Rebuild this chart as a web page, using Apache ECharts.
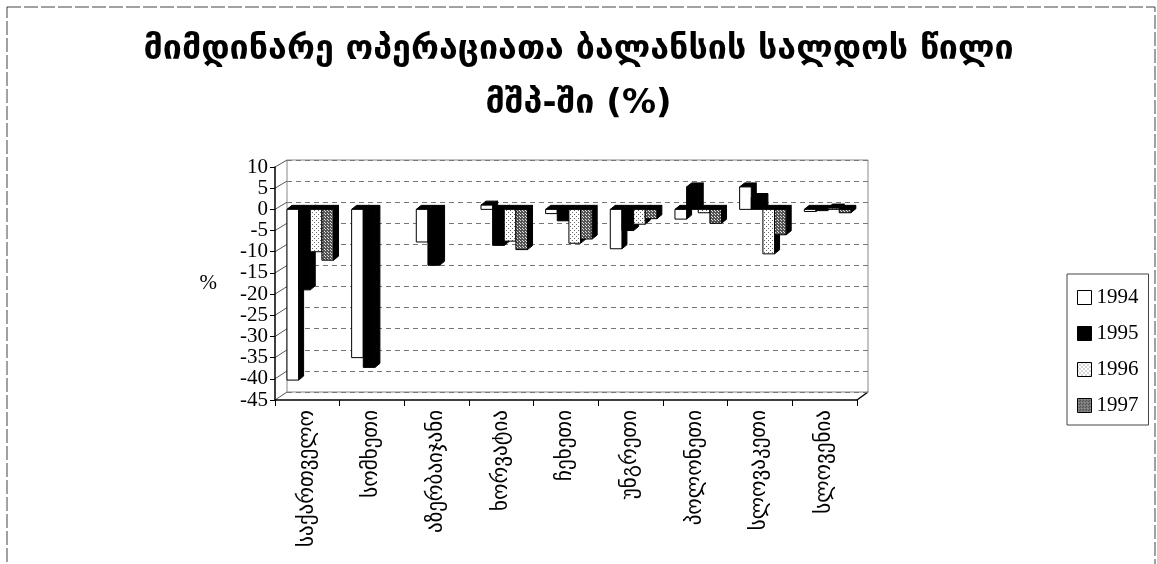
<!DOCTYPE html>
<html>
<head>
<meta charset="utf-8">
<script src="https://cdn.jsdelivr.net/npm/echarts@6/dist/echarts.min.js"></script>
<style>
  html, body { margin: 0; padding: 0; background: #fff; }
  #chart { width: 1157px; height: 564px; }
</style>
</head>
<body>
<div id="chart"></div>
<script>
// values (% of GDP)
const categories = ['საქართველო', 'სომხეთი', 'აზერბაიჯანი', 'ხორვატია', 'ჩეხეთი', 'უნგრეთი', 'პოლონეთი', 'სლოვაკეთი', 'სლოვენია'];
const years = ['1994', '1995', '1996', '1997'];
const v1994 = [-40.3, -35, -7.7, 1, -1, -9.3, -2.3, 5.3, -0.5];
const v1995 = [-19, -37.3, -13.2, -8.5, -2.7, -5, 5.3, 2.8, -0.3];
const v1996 = [-10, null, null, -7.5, -8, -3.5, -0.8, -10.5, 0.3];
const v1997 = [-12, null, null, -9.5, -7, -2.2, -3.3, -6, -0.8];
const yTicks = [10, 5, 0, -5, -10, -15, -20, -25, -30, -35, -40, -45];

const values = [v1994, v1995, v1996, v1997];

// small dot patterns like the printed hatching
function dots(bg, fg, step) {
  const c = document.createElement('canvas');
  c.width = step; c.height = step;
  const g = c.getContext('2d');
  g.fillStyle = bg; g.fillRect(0, 0, step, step);
  g.fillStyle = fg;
  g.fillRect(0, 0, 1, 1);
  g.fillRect(Math.floor(step / 2), Math.floor(step / 2), 1, 1);
  return { image: c, repeat: 'repeat' };
}
const fills = ['#ffffff', '#000000', dots('#ffffff', '#666666', 4), dots('#555555', '#e0e0e0', 3)];

const DX = 5, DY = -4;

function barRenderer(si) {
  return function (params, api) {
    const ci = api.value(0);
    const v = api.value(1);
    if (v == null || isNaN(v)) return null;
    const band = api.size([1, 0])[0];
    const bw = band * 0.18;
    const p0 = api.coord([ci, 0]);
    const p1 = api.coord([ci, v]);
    const x0 = p0[0] - band / 2 + band * 0.185 + si * bw;
    const x1 = x0 + bw;
    const yt = Math.min(p0[1], p1[1]);
    const yb = Math.max(p0[1], p1[1]);
    return {
      type: 'group',
      children: [
        { type: 'polygon', shape: { points: [[x1, yt], [x1 + DX, yt + DY], [x1 + DX, yb + DY], [x1, yb]] },
          style: { fill: '#000', stroke: '#000', lineWidth: 1 } },
        { type: 'polygon', shape: { points: [[x0, yt], [x0 + DX, yt + DY], [x1 + DX, yt + DY], [x1, yt]] },
          style: { fill: '#000', stroke: '#000', lineWidth: 1 } },
        { type: 'rect', shape: { x: x0, y: yt, width: bw, height: Math.max(yb - yt, 0.5) },
          style: { fill: fills[si], stroke: '#000', lineWidth: 1 } }
      ]
    };
  };
}

const chart = echarts.init(document.getElementById('chart'));

const series = years.map(function (y, si) {
  return {
    name: y,
    type: 'custom',
    xAxisIndex: 1,
    yAxisIndex: 1,
    renderItem: barRenderer(si),
    itemStyle: { color: fills[si], borderColor: '#000', borderWidth: 1 },
    encode: { x: 0, y: 1 },
    data: categories.map(function (c, i) { return [i, values[si][i]]; }),
    z: 3
  };
});

const axisFont = 'Liberation Serif';
const frame = { type: 'rect', shape: { x: 7, y: 7, width: 1148, height: 600 },
  style: { fill: 'none', stroke: '#444', lineWidth: 1, lineDash: [14, 3] }, silent: true };

chart.setOption({
  animation: false,
  title: {
    text: 'მიმდინარე ოპერაციათა ბალანსის სალდოს წილი\nმშპ-ში (%)',
    left: 'center',
    top: 18,
    textStyle: { fontFamily: 'DejaVu Sans', fontWeight: 'bold', fontSize: 34, lineHeight: 54, color: '#000' }
  },
  legend: {
    orient: 'vertical',
    left: 1067,
    top: 274,
    padding: [13, 10, 9, 10],
    itemWidth: 14,
    itemHeight: 14,
    itemGap: 15,
    icon: 'rect',
    borderColor: '#444',
    borderWidth: 1,
    textStyle: { fontFamily: axisFont, fontSize: 21, color: '#000' },
    data: years.map(function (y, si) {
      return { name: y, itemStyle: { color: fills[si], borderColor: '#000', borderWidth: 1 } };
    })
  },
  grid: [
    { left: 287, right: 289, top: 160, bottom: 172, show: true, borderColor: '#888', borderWidth: 1, backgroundColor: 'transparent' },
    { left: 275, right: 300, top: 167, bottom: 164 }
  ],
  xAxis: [
    { gridIndex: 0, type: 'category', data: categories, show: false },
    {
      gridIndex: 1,
      type: 'category',
      data: categories,
      position: 'bottom',
      axisLine: { onZero: false, lineStyle: { color: '#000', width: 1.5 } },
      axisTick: { show: true, length: 6, lineStyle: { color: '#000' } },
      axisLabel: { rotate: 90, margin: 10, fontFamily: 'DejaVu Sans', fontSize: 21, color: '#000', interval: 0 }
    }
  ],
  yAxis: [
    {
      gridIndex: 0, type: 'value', min: -45, max: 10, interval: 5,
      axisLine: { show: false }, axisTick: { show: false }, axisLabel: { show: false },
      splitLine: { show: true, lineStyle: { color: '#777', type: [5, 4], width: 1 } }
    },
    {
      gridIndex: 1, type: 'value', min: -45, max: 10, interval: 5,
      name: '%',
      nameLocation: 'middle',
      nameRotate: 0,
      nameGap: 58,
      nameTextStyle: { fontFamily: axisFont, fontSize: 21, color: '#000' },
      axisLine: { show: true, lineStyle: { color: '#000', width: 1.5 } },
      axisTick: { show: true, length: 5, lineStyle: { color: '#000' } },
      axisLabel: { fontFamily: axisFont, fontSize: 21, color: '#000', margin: 7 },
      splitLine: { show: false }
    }
  ],
  series: series,
  graphic: [frame]
});

// 3d side wall and floor edges, placed from the two value scales
const extra = [];
const fBot = chart.convertToPixel({ yAxisIndex: 1 }, -45);
const bBot = chart.convertToPixel({ yAxisIndex: 0 }, -45);
const fLeft = 275, bLeft = 287, fRight = 1157 - 300, bRight = 1157 - 289;
yTicks.forEach(function (t) {
  const yf = chart.convertToPixel({ yAxisIndex: 1 }, t);
  const yb = chart.convertToPixel({ yAxisIndex: 0 }, t);
  extra.push({ type: 'line', shape: { x1: fLeft, y1: yf, x2: bLeft, y2: yb },
    style: { stroke: '#555', lineWidth: 1 }, silent: true });
});
extra.push({ type: 'line', shape: { x1: fRight, y1: fBot, x2: bRight, y2: bBot },
  style: { stroke: '#000', lineWidth: 1.5 }, silent: true });
chart.setOption({ graphic: [frame].concat(extra) });
</script>
</body>
</html>
